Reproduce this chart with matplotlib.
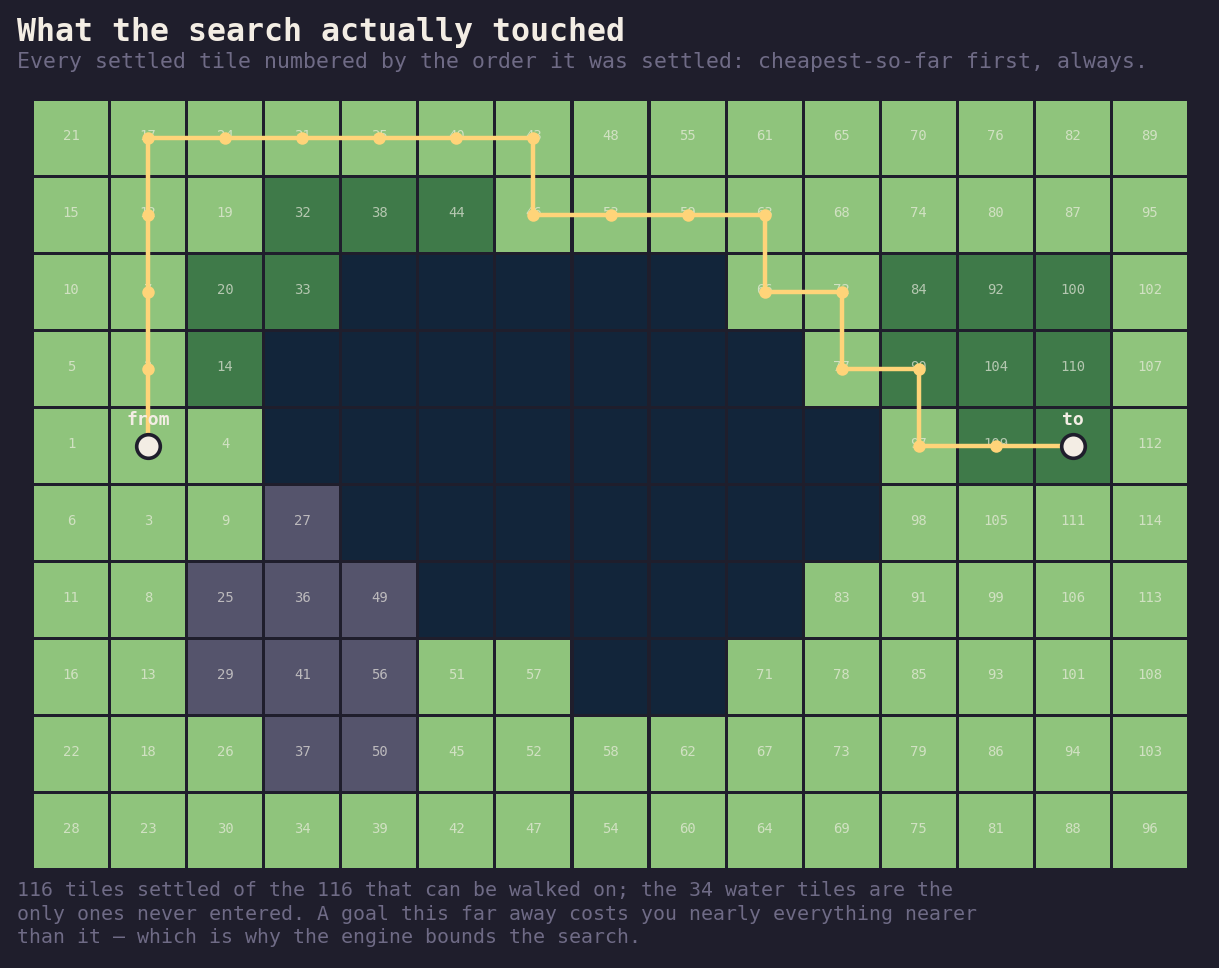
import numpy as np
import matplotlib
matplotlib.use("Agg")
import matplotlib.pyplot as plt
from matplotlib.patches import Rectangle

### DATA
# terrain per row, top row first: g = grass, f = forest, h = hills, w = water
terrain = [
    "ggggggggggggggg",
    "gggfffggggggggg",
    "ggffwwwwwggfffg",
    "ggfwwwwwwwgfffg",
    "gggwwwwwwwwgffg",
    "ggghwwwwwwwgggg",
    "gghhhwwwwwggggg",
    "gghhhggwwgggggg",
    "ggghhgggggggggg",
    "ggggggggggggggg",
]

# settle order per tile, None for water
settled = [
    [21, 17, 24, 31, 35, 40, 43, 48, 55, 61, 65, 70, 76, 82, 89],
    [15, 12, 19, 32, 38, 44, 46, 53, 59, 63, 68, 74, 80, 87, 95],
    [10, 7, 20, 33, None, None, None, None, None, 66, 72, 84, 92, 100, 102],
    [5, 2, 14, None, None, None, None, None, None, None, 77, 90, 104, 110, 107],
    [1, 0, 4, None, None, None, None, None, None, None, None, 97, 109, 115, 112],
    [6, 3, 9, 27, None, None, None, None, None, None, None, 98, 105, 111, 114],
    [11, 8, 25, 36, 49, None, None, None, None, None, 83, 91, 99, 106, 113],
    [16, 13, 29, 41, 56, 51, 57, None, None, 71, 78, 85, 93, 101, 108],
    [22, 18, 26, 37, 50, 45, 52, 58, 62, 67, 73, 79, 86, 94, 103],
    [28, 23, 30, 34, 39, 42, 47, 54, 60, 64, 69, 75, 81, 88, 96],
]

# path cells as (col, row), start to goal
path = [(1, 4), (1, 3), (1, 2), (1, 1), (1, 0), (2, 0), (3, 0), (4, 0), (5, 0),
        (6, 0), (6, 1), (7, 1), (8, 1), (9, 1), (9, 2), (10, 2), (10, 3),
        (11, 3), (11, 4), (12, 4), (13, 4)]

title = "What the search actually touched"
subtitle = "Every settled tile numbered by the order it was settled: cheapest-so-far first, always."
footer = ("116 tiles settled of the 116 that can be walked on; the 34 water tiles are the\n"
          "only ones never entered. A goal this far away costs you nearly everything nearer\n"
          "than it \u2014 which is why the engine bounds the search.")

### STYLE
bg = "#1f1e2c"
colours = {"g": "#8fc47c", "f": "#3f7a49", "h": "#55546c", "w": "#12253a"}
pathcol = "#ffd479"
mono = "DejaVu Sans Mono"

nrows = len(terrain)
ncols = len(terrain[0])

fig = plt.figure(figsize=(12.19, 9.68), dpi=100, facecolor=bg)
W, H = 1219, 968
ax = fig.add_axes([32.5 / W, (H - 869.5) / H, 1156 / W, 770 / H])
ax.set_facecolor(bg)
ax.set_xlim(0, ncols)
ax.set_ylim(nrows, 0)
ax.axis("off")

gap = 0.02
for r in range(nrows):
    for c in range(ncols):
        ax.add_patch(Rectangle((c + gap, r + gap), 1 - 2 * gap, 1 - 2 * gap,
                               facecolor=colours[terrain[r][c]], edgecolor="none", zorder=1))
        n = settled[r][c]
        if n is not None and (c, r) not in (path[0], path[-1]):
            ax.text(c + 0.5, r + 0.47, str(n), ha="center", va="center", family=mono,
                    fontsize=10, color="#f4f1e8", alpha=0.65, zorder=2)

# route
px = [p[0] + 0.5 for p in path]
py = [p[1] + 0.5 for p in path]
ax.plot(px, py, color=pathcol, lw=3.2, solid_joinstyle="miter", zorder=3)
ax.plot(px[1:-1], py[1:-1], "o", color=pathcol, ms=9, mew=0, zorder=4)
ax.plot([px[0], px[-1]], [py[0], py[-1]], "o", ms=17, mfc="#f3ede4", mec=bg, mew=2.6, zorder=5)
ax.text(px[0], py[0] - 0.22, "from", ha="center", va="bottom", family=mono,
        fontweight="bold", fontsize=13, color="#f3ede4", zorder=6)
ax.text(px[-1], py[-1] - 0.22, "to", ha="center", va="bottom", family=mono,
        fontweight="bold", fontsize=13, color="#f3ede4", zorder=6)

fig.text(17 / W, 1 - 41 / H, title, family=mono, fontweight="bold", fontsize=22.7,
         color="#f3ede4", va="baseline")
fig.text(17 / W, 1 - 68 / H, subtitle, family=mono, fontsize=15.45,
         color="#6f6b86", va="baseline")
fig.text(17 / W, 1 - 881 / H, footer, family=mono, fontsize=14.35,
         color="#6f6b86", va="top", linespacing=1.3)

fig.savefig("out.png", dpi=100, facecolor=bg)
